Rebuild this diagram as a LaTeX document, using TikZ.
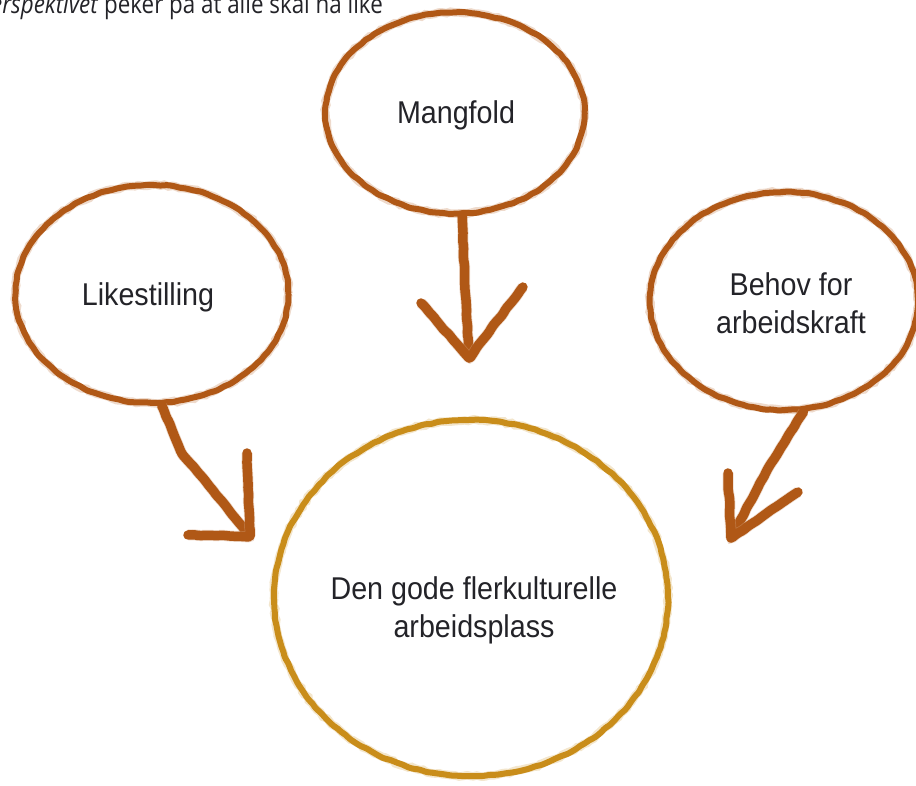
\documentclass[tikz,border=0pt]{standalone}
\usepackage{fontspec}
\setmainfont{Liberation Sans}[FakeStretch=0.91]
\newfontfamily\topfont{Open Sans}[FakeStretch=0.86]
\usetikzlibrary{shapes.geometric,decorations.pathmorphing}
\definecolor{rust}{RGB}{176,88,22}
\definecolor{gold}{RGB}{201,141,26}
\definecolor{ink}{RGB}{35,35,40}
\begin{document}
\begin{tikzpicture}[x=1pt,y=-1pt,
  ring/.style={ellipse, draw=#1, line width=6pt, inner sep=0pt,
    decorate, decoration={random steps, segment length=5pt, amplitude=0.7pt},
    rounded corners=2.5pt},
  fuzz/.style={draw=#1!55, line width=8.5pt, draw opacity=.4, decorate,
    decoration={random steps, segment length=4pt, amplitude=1pt}},
  lbl/.style={text=ink, font=\fontsize{31.5}{38}\selectfont, align=center, anchor=base, inner sep=0pt},
  stroke/.style={draw=rust, line width=9.5pt, line cap=round, line join=round,
    decorate, decoration={random steps, segment length=6pt, amplitude=0.6pt},
    rounded corners=2pt,
    preaction={draw=rust!55, draw opacity=.4, line width=11pt}}]
\useasboundingbox (0,0) rectangle (916,785);

% top cropped text
\node[text=ink, font=\topfont\fontsize{26}{30}\selectfont, anchor=base east, inner sep=0pt] (top) at (383,13.5)
  {\textit{Likestillingsperspektivet} peker på at alle skal ha like};

% soft chalk halo under the rings
\draw[fuzz=rust] (455,113) ellipse [x radius=129.5, y radius=100.5];
\draw[fuzz=rust] (152,294) ellipse [x radius=136.5, y radius=109];
\draw[fuzz=rust] (784,301) ellipse [x radius=134, y radius=109];
\draw[fuzz=gold] (471,598) ellipse [x radius=197, y radius=178];

% circles
\node[ring=rust, minimum width=259pt, minimum height=201pt] (mangO) at (455,113) {};
\node[ring=rust, minimum width=273pt, minimum height=218pt] (likeO) at (152,294) {};
\node[ring=rust, minimum width=268pt, minimum height=218pt] (behovO) at (784,301) {};
\node[ring=gold, minimum width=394pt, minimum height=356pt] (bigO) at (471,598) {};

% labels (base = baseline of the last line)
\node[lbl] (mang) at (456,123) {Mangfold};
\node[lbl] (like) at (148,305) {Likestilling};
\node[lbl] (behov) at (791,333) {Behov for\\arbeidskraft};
\node[lbl] (big) at (474,637) {Den gode flerkulturelle\\arbeidsplass};

% arrow tips and head ends
\coordinate (tipL) at (250,536);
\coordinate (hL1) at (247,453);
\coordinate (hL2) at (188,535);
\coordinate (tipM) at (469,358);
\coordinate (hM1) at (421,303);
\coordinate (hM2) at (523,287);
\coordinate (tipR) at (731,538);
\coordinate (hR1) at (728,473);
\coordinate (hR2) at (798,492);

% arrows
\draw[stroke] (likeO.-85) -- (181,452) -- (tipL);
\draw[stroke] (hL1) -- (tipL) -- (hL2);
\draw[stroke] (mangO.-86) -- (465,290) -- (tipM);
\draw[stroke] (hM1) -- (tipM) -- (hM2);
\draw[stroke] (behovO.-80) -- (770,465) -- (tipR);
\draw[stroke] (hR1) -- (tipR) -- (hR2);
\end{tikzpicture}
\end{document}
